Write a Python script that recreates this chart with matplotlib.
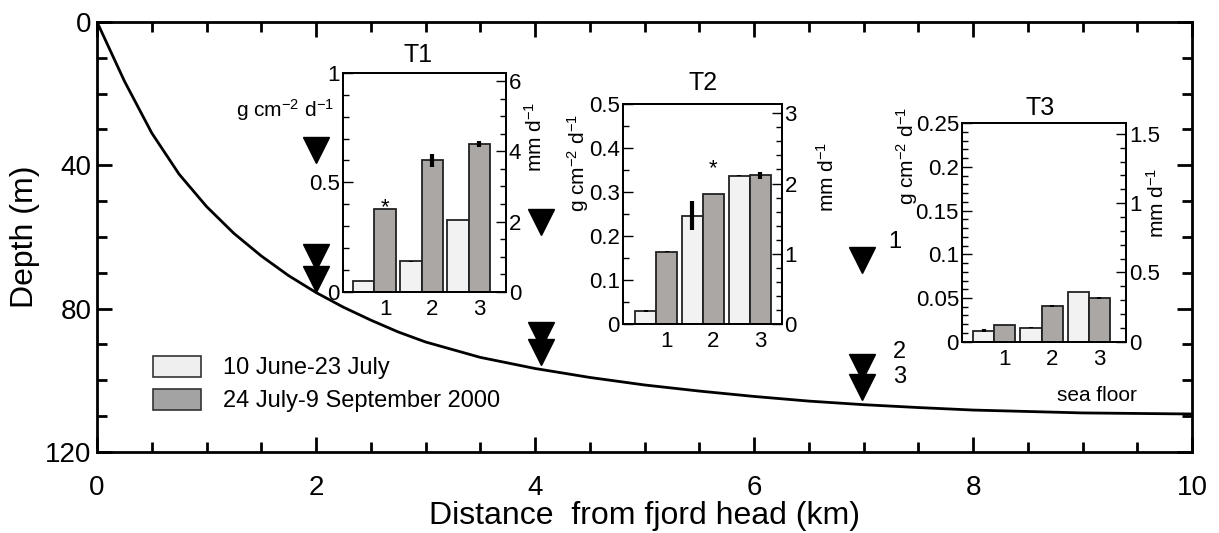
import matplotlib.pyplot as plt
from matplotlib.patches import Patch
from matplotlib.ticker import MultipleLocator, FuncFormatter

plt.rcParams['font.family'] = ['Liberation Sans', 'DejaVu Sans']
plt.rcParams['mathtext.fontset'] = 'custom'
plt.rcParams['mathtext.rm'] = 'Liberation Sans'
plt.rcParams['mathtext.default'] = 'regular'

# fjord bottom profile
dist_km = [0, 0.25, 0.5, 0.75, 1.0, 1.25, 1.5, 1.75, 2.0, 2.25, 2.5, 2.75, 3.0, 3.5, 4.0,
           4.5, 5.0, 5.5, 6.0, 6.5, 7.0, 7.5, 8.0, 9.0, 10.0]
depth_m = [0, 16.5, 31.0, 42.5, 51.5, 59.0, 65.3, 70.8, 75.5, 79.6, 83.2, 86.5, 89.3, 93.6, 96.7,
           99.2, 101.3, 103.0, 104.5, 105.8, 106.8, 107.6, 108.3, 109.1, 109.4]

# sediment trap positions (triangles)
trap_x = [2.0, 2.0, 2.0, 4.05, 4.05, 4.05, 6.99, 6.99, 6.99]
trap_depth = [35.8, 65.6, 71.6, 55.7, 87.3, 92.0, 66.3, 96.4, 102.0]

# inset bar values (g cm-2 d-1)
groups = [1, 2, 3]
t1_early = [0.050, 0.139, 0.329]
t1_late = [0.378, 0.601, 0.676]
t1_early_err = [0.0, 0.003, 0.0]
t1_late_err = [0.0, 0.030, 0.015]

t2_early = [0.030, 0.246, 0.337]
t2_late = [0.165, 0.297, 0.338]
t2_early_err = [0.002, 0.033, 0.001]
t2_late_err = [0.001, 0.0, 0.009]

t3_early = [0.0127, 0.0162, 0.0569]
t3_late = [0.0192, 0.0412, 0.0500]
t3_early_err = [0.0015, 0.0005, 0.0005]
t3_late_err = [0.0, 0.0012, 0.0012]

light = '#f2f2f2'
dark = '#aaa7a4'
fmt = FuncFormatter(lambda v, p: '%g' % round(v, 4))

fig = plt.figure(figsize=(12.19, 5.33), dpi=100)
ax = fig.add_axes([0.0796, 0.152, 0.8983, 0.8068])
ax.plot(dist_km, depth_m, color='black', lw=2)
ax.plot(trap_x, trap_depth, 'v', color='black', markersize=19, ls='none')
ax.text(7.29, 61.5, '1', fontsize=17, ha='center', va='center')
ax.text(7.33, 92, '2', fontsize=17, ha='center', va='center')
ax.text(7.33, 99, '3', fontsize=17, ha='center', va='center')

ax.set_xlim(0, 10)
ax.set_ylim(120, 0)
ax.xaxis.set_major_locator(MultipleLocator(2))
ax.xaxis.set_minor_locator(MultipleLocator(0.5))
ax.yaxis.set_major_locator(MultipleLocator(40))
ax.yaxis.set_minor_locator(MultipleLocator(10))
ax.tick_params(which='both', direction='in', top=True, right=True, width=2)
ax.tick_params(which='major', length=11, labelsize=20)
ax.tick_params(which='minor', length=7)
ax.tick_params(axis='x', pad=16.5)
ax.tick_params(axis='y', pad=4)
for s in ax.spines.values():
    s.set_linewidth(2)
ax.set_xlabel('Distance  from fjord head (km)', fontsize=23, labelpad=0)
ax.set_ylabel('Depth (m)', fontsize=23, labelpad=4)

handles = [Patch(facecolor='#efefef', edgecolor='#333333', lw=1.2),
           Patch(facecolor='#a3a3a3', edgecolor='#333333', lw=1.2)]
ax.legend(handles, ['10 June-23 July', '24 July-9 September 2000'],
          loc='upper left', bbox_to_anchor=(0.051, 0.224), frameon=False,
          fontsize=17, handlelength=2.05, handleheight=1.0, handletextpad=0.9,
          labelspacing=0.4, borderpad=0, borderaxespad=0)


def inset(rect, early, late, early_err, late_err, xlim, ymax, ymaj, ymin, rmax, rmaj, rmin):
    a = fig.add_axes(rect)
    w = 0.45
    a.bar([g - w for g in groups], early, width=w, align='center', color=light,
          edgecolor='#222222', lw=1.3)
    a.bar(groups, late, width=w, align='center', color=dark,
          edgecolor='#222222', lw=1.3)
    a.errorbar([g - w for g in groups], early, yerr=early_err, fmt='none',
               ecolor='black', elinewidth=3, capsize=0)
    a.errorbar(groups, late, yerr=late_err, fmt='none',
               ecolor='black', elinewidth=3, capsize=0)
    a.set_xlim(*xlim)
    a.set_ylim(0, ymax)
    a.set_xticks(groups)
    a.tick_params(axis='x', length=0, pad=5, labelsize=16)
    a.yaxis.set_major_locator(MultipleLocator(ymaj))
    a.yaxis.set_minor_locator(MultipleLocator(ymin))
    a.yaxis.set_major_formatter(fmt)
    a.tick_params(axis='y', which='both', direction='in', labelsize=16, pad=2, width=1)
    a.tick_params(axis='y', which='major', length=7)
    a.tick_params(axis='y', which='minor', length=4)
    r = a.twinx()
    r.set_ylim(0, rmax)
    r.yaxis.set_major_locator(MultipleLocator(rmaj))
    r.yaxis.set_minor_locator(MultipleLocator(rmin))
    r.yaxis.set_major_formatter(fmt)
    r.tick_params(axis='y', which='both', direction='in', labelsize=16, pad=2, width=1)
    r.tick_params(axis='y', which='major', length=7)
    r.tick_params(axis='y', which='minor', length=4)
    for s in list(a.spines.values()) + list(r.spines.values()):
        s.set_linewidth(1.3)
    return a, r


a1, r1 = inset([0.2811, 0.4527, 0.134, 0.4103], t1_early, t1_late, t1_early_err, t1_late_err,
               (0.10, 3.57), 1.0, 0.5, 0.1, 6.23, 2, 0.5)
a1.text(0.461, 1.082, 'T1', transform=a1.transAxes, fontsize=18, ha='center', va='center')
a1.text(-0.05, 0.831, 'g cm$^{-2}$ d$^{-1}$', transform=a1.transAxes, fontsize=15,
        ha='right', va='center')
a1.text(1.178, 0.707, 'mm d$^{-1}$', transform=a1.transAxes, fontsize=15, rotation=90,
        ha='center', va='center')
a1.text(1, 0.337, '*', fontsize=16, ha='center', va='bottom')

a2, r2 = inset([0.5108, 0.3921, 0.1304, 0.4122], t2_early, t2_late, t2_early_err, t2_late_err,
               (0.06, 3.46), 0.5, 0.1, 0.05, 3.128, 1, 0.2)
a2.text(0.505, 1.097, 'T2', transform=a2.transAxes, fontsize=18, ha='center', va='center')
a2.text(-0.281, 0.733, 'g cm$^{-2}$ d$^{-1}$', transform=a2.transAxes, fontsize=15, rotation=90,
        ha='center', va='center')
a2.text(1.285, 0.669, 'mm d$^{-1}$', transform=a2.transAxes, fontsize=15, rotation=90,
        ha='center', va='center')
a2.text(2, 0.330, '*', fontsize=16, ha='center', va='bottom')

a3, r3 = inset([0.7889, 0.3589, 0.1348, 0.4098], t3_early, t3_late, t3_early_err, t3_late_err,
               (0.088, 3.56), 0.25, 0.05, 0.01, 1.577, 0.5, 0.1)
a3.text(0.477, 1.070, 'T3', transform=a3.transAxes, fontsize=18, ha='center', va='center')
a3.text(-0.333, 0.850, 'g cm$^{-2}$ d$^{-1}$', transform=a3.transAxes, fontsize=15, rotation=90,
        ha='center', va='center')
a3.text(1.189, 0.635, 'mm d$^{-1}$', transform=a3.transAxes, fontsize=15, rotation=90,
        ha='center', va='center')
a3.text(0.823, -0.244, 'sea floor', transform=a3.transAxes, fontsize=15, ha='center', va='center')

fig.savefig('out.png', dpi=100)
